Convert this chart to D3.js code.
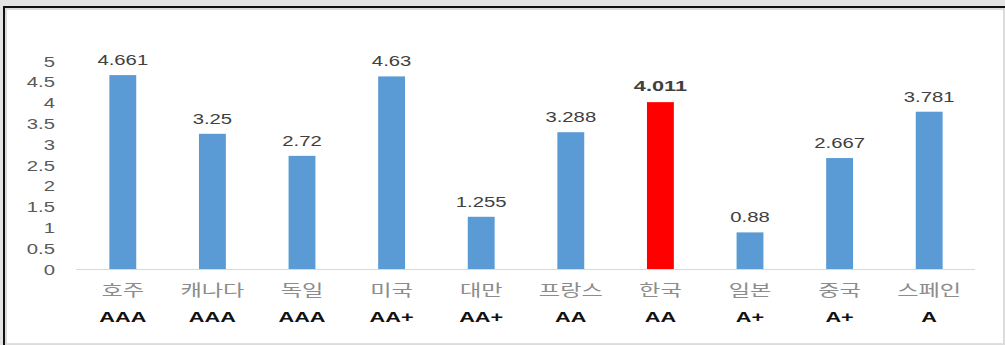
<!DOCTYPE html>
<html><head><meta charset="utf-8">
<script src="https://cdn.jsdelivr.net/npm/d3@7"></script>
<style>html,body{margin:0;padding:0;background:#fff;}svg{display:block;}</style>
</head><body>
<script>
const categories = ["호주","캐나다","독일","미국","대만","프랑스","한국","일본","중국","스페인"];
const values = [4.661,3.25,2.72,4.63,1.255,3.288,4.011,0.88,2.667,3.781];
const valueLabels = ["4.661","3.25","2.72","4.63","1.255","3.288","4.011","0.88","2.667","3.781"];
const ratings = ["AAA","AAA","AAA","AA+","AA+","AA","AA","A+","A+","A"];
const highlight = "한국";
const yTicks = [0,0.5,1,1.5,2,2.5,3,3.5,4,4.5,5];

const W = 1005, H = 345, SX = 1.45;
const svg = d3.select("body").append("svg").attr("width", W).attr("height", H);

// frame
svg.append("rect").attr("x",0).attr("y",0).attr("width",W).attr("height",H).attr("fill","#e4e4e4");
svg.append("rect").attr("x",3).attr("y",6).attr("width",W-3).attr("height",H-6).attr("fill","#111");
svg.append("rect").attr("x",5).attr("y",8).attr("width",W-5).attr("height",H-8).attr("fill","#dcdcdc");
svg.append("rect").attr("x",7).attr("y",10).attr("width",996).attr("height",333).attr("fill","#fff");
svg.append("line").attr("x1",7).attr("x2",1003).attr("y1",343.5).attr("y2",343.5).attr("stroke","#e0e0e0");

const x = d3.scaleBand().domain(categories).range([78, 974]).paddingInner(0.7).paddingOuter(0.35);
const y = d3.scaleLinear().domain([0,5]).range([269, 61]);

// baseline axis
const xAxis = svg.append("g").attr("transform","translate(0,269.5)")
  .call(d3.axisBottom(x).tickSize(0).tickFormat(""));
xAxis.select(".domain").attr("stroke","#d9d9d9").attr("d","M76,0H975");

// y tick labels
const yAxis = svg.append("g").attr("transform","translate(55,0)")
  .call(d3.axisLeft(y).tickValues(yTicks).tickSize(0).tickPadding(0).tickFormat(d3.format("")));
yAxis.select(".domain").remove();
yAxis.selectAll("text")
  .attr("x",null).attr("dy",null)
  .attr("transform",`translate(0,5) scale(${SX},1)`)
  .attr("text-anchor","end").attr("fill","#595959")
  .attr("font-family","Liberation Sans, Arial, sans-serif").attr("font-size",14);

const data = categories.map((c,i)=>({c, v:values[i], lab:valueLabels[i], r:ratings[i]}));

svg.selectAll(".bar").data(data).join("rect")
  .attr("x", d=>x(d.c)).attr("width", x.bandwidth())
  .attr("y", d=>y(d.v)).attr("height", d=>y(0)-y(d.v))
  .attr("fill", d=>d.c===highlight ? "#ff0000" : "#5b9bd5");

svg.selectAll(".vl").data(data).join("text")
  .attr("transform", d=>`translate(${x(d.c)+x.bandwidth()/2},${y(d.v)-(d.c===highlight?11:10)}) scale(${SX},1)`)
  .attr("text-anchor","middle")
  .attr("font-family","Liberation Sans, Arial, sans-serif")
  .attr("font-size", d=>d.c===highlight?15:14)
  .attr("font-weight", d=>d.c===highlight?"bold":"normal")
  .attr("fill","#404040")
  .text(d=>d.lab);

svg.selectAll(".cl").data(data).join("text")
  .attr("transform", d=>`translate(${x(d.c)+x.bandwidth()/2},296) scale(${SX},1)`)
  .attr("text-anchor","middle")
  .attr("font-family","Noto Sans CJK KR, sans-serif")
  .attr("font-size",16).attr("fill","#8c8c8c")
  .text(d=>d.c);

svg.selectAll(".rl").data(data).join("text")
  .attr("transform", d=>`translate(${x(d.c)+x.bandwidth()/2},322) scale(${SX},1)`)
  .attr("text-anchor","middle")
  .attr("font-family","Liberation Sans, Arial, sans-serif")
  .attr("font-size",15).attr("font-weight","bold").attr("fill","#111")
  .text(d=>d.r);
</script>
</body></html>
